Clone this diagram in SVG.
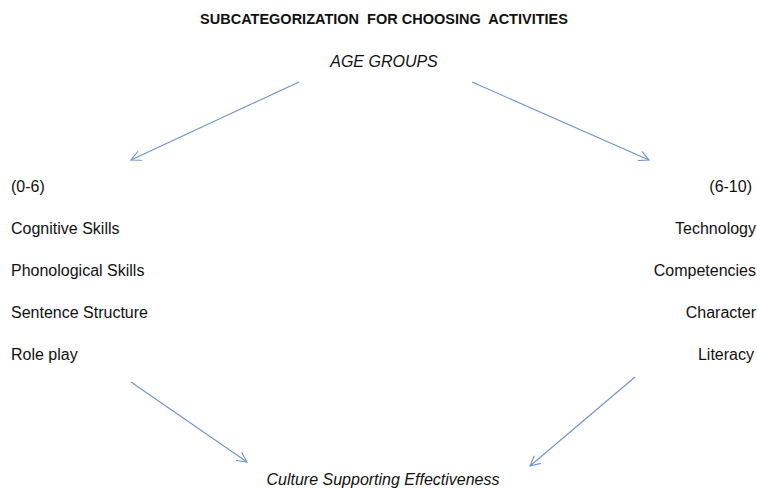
<svg xmlns="http://www.w3.org/2000/svg" width="757" height="488" viewBox="0 0 757 488">
<defs>
<style>
text{font-family:"Liberation Sans",Arial,sans-serif;font-size:16px;fill:#111111}
.b{font-weight:bold;font-size:14.5px}
.i{font-style:italic}
.r{text-anchor:end}
.c{text-anchor:middle}
.con line{stroke:#6d95c9;stroke-width:1.1;fill:none}
</style>
<marker id="ah" viewBox="0 0 12 12" refX="11" refY="6" markerWidth="12" markerHeight="12" markerUnits="userSpaceOnUse" orient="auto">
<path d="M1,1 L11,6 L1,11" fill="none" stroke="#6d95c9" stroke-width="1.1"/>
</marker>
</defs>
<rect width="757" height="488" fill="#ffffff"/>
<g id="title"><text class="b c" x="384" y="24" xml:space="preserve">SUBCATEGORIZATION  FOR CHOOSING  ACTIVITIES</text></g>
<g id="age-groups"><text class="i c" x="384" y="67">AGE GROUPS</text></g>
<g id="group-0-6">
<text x="11" y="192">(0-6)</text>
<text x="11" y="234">Cognitive Skills</text>
<text x="11" y="276">Phonological Skills</text>
<text x="11" y="318">Sentence Structure</text>
<text x="11" y="360">Role play</text>
</g>
<g id="group-6-10">
<text class="r" x="752" y="192">(6-10)</text>
<text class="r" x="756" y="234">Technology</text>
<text class="r" x="756" y="276">Competencies</text>
<text class="r" x="756" y="318">Character</text>
<text class="r" x="754" y="360">Literacy</text>
</g>
<g id="culture"><text class="i c" x="383" y="485">Culture Supporting Effectiveness</text></g>
<g class="con" id="connectors">
<line x1="299" y1="82" x2="131" y2="160" marker-end="url(#ah)"/>
<line x1="472" y1="82" x2="649" y2="160" marker-end="url(#ah)"/>
<line x1="131" y1="382" x2="247" y2="462" marker-end="url(#ah)"/>
<line x1="635" y1="377" x2="530" y2="466" marker-end="url(#ah)"/>
</g>
</svg>
